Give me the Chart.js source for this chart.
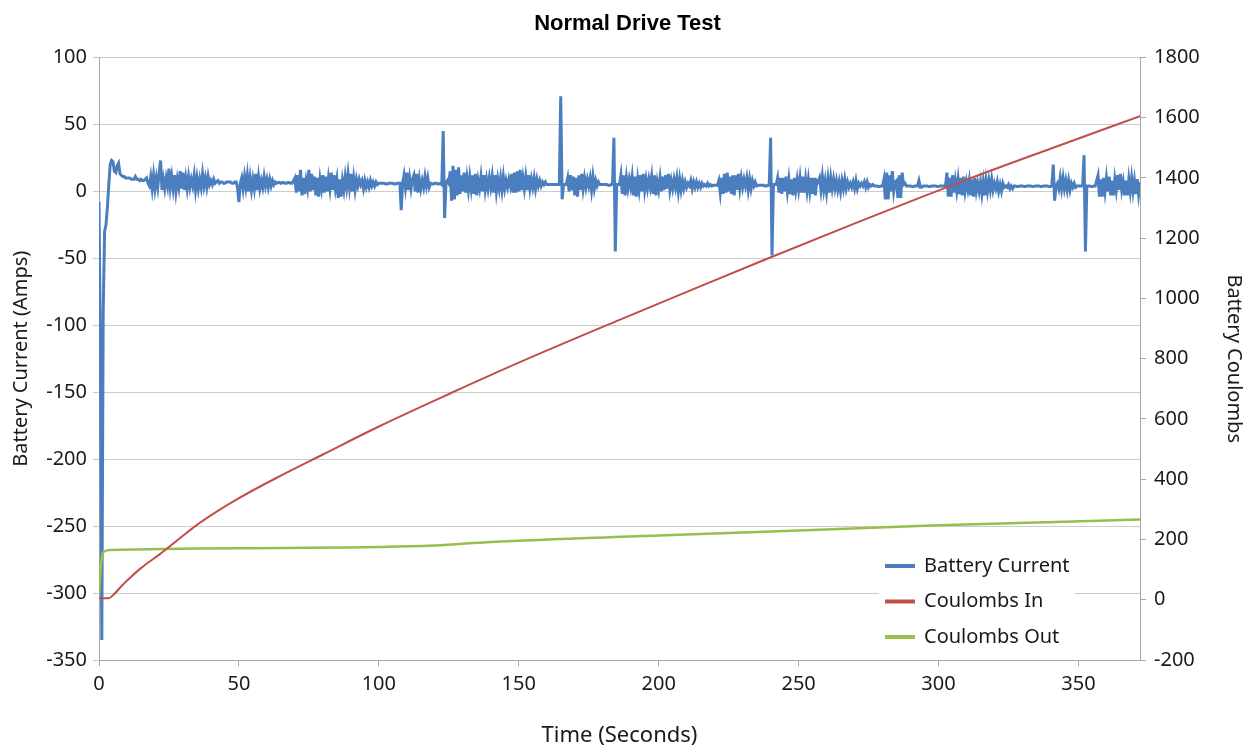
<!DOCTYPE html>
<html>
<head>
<meta charset="utf-8">
<title>Normal Drive Test</title>
<script src="https://cdn.jsdelivr.net/npm/chart.js@4.4.1/dist/chart.umd.min.js"></script>
<style>
  html, body { margin: 0; padding: 0; background: #fff; }
  #wrap { width: 1258px; height: 753px; }
</style>
</head>
<body>
<div id="wrap"><canvas id="chart" width="1258" height="753"></canvas></div>
<script>
// battery current, sampled every half second from t = 0 (one row = 5 s)
const currentStep = 0.5;
const currentAmps = [
  -8, -120, -335, -90, -30, -25, -12, 5, 20, 23,
  22, 15, 14, 19, 21, 13, 12, 11, 11, 10,
  10, 10, 10, 9, 9, 9, 11, 9, 9, 8,
  9, 8, 8, 9, 10, 6, 4, 11, 2, 12,
  2, 10, 3, 14, 23, 1, 9, 2, 10, 4,
  17, 3, 11, 2, 12, 0, 9, 3, 15, 2,
  14, 1, 10, 2, 11, 3, 9, 4, 12, 1,
  10, 2, 9, 3, 13, 4, 10, 3, 11, 5,
  8, 5, 9, 6, 7, 8, 6, 7, 7, 6,
  6, 7, 7, 7, 7, 6, 6, 7, 7, 3,
  -8, 6, 10, 2, 11, 3, 12, 0, 10, 1,
  9, 2, 13, 1, 11, 2, 8, 3, 11, 4,
  9, 3, 9, 4, 8, 5, 7, 6, 6.5, 6.5,
  6, 6.5, 6.5, 6, 6, 6.5, 6.5, 6, 6, 8,
  10, -1, 12, 0, 16, -3, 10, -2, 8, 2,
  16, 0, 13, 1, 11, -3, 10, -4, 9, 2,
  12, -1, 11, 0, 10, 2, 14, 1, 12, 2,
  9, -5, 9, -4, 8, 1, 11, 3, 13, 3,
  13, 0, 10, 1, 9, 4, 9, 5, 8, 2,
  8, 3, 7, 3, 8, 4, 7, 4, 7, 5,
  6, 6, 6, 6, 6, 5.5, 5.5, 6, 6, 6,
  6, 5.5, 5.5, 6, 6, 6, -14, 6, 12, 3,
  14, 1, 10, 2, 9, 12, 0, 13, -1, 9,
  2, 8, 3, 11, 4, 10, 3, 6, 5.5, 5.5,
  6, 6, 5.5, 5.5, 6, 5, 45, -20, 6, 8,
  6, 15, -7, 19, -6, 16, -3, 18, -2, 12,
  0, 14, -1, 10, 1, 11, 2, 12, -2, 13,
  -3, 8, 2, 11, 0, 12, 1, 9, 2, 10,
  3, 11, -1, 12, 0, 9, 2, 10, 1, 11,
  2, 8, 3, 9, 4, 13, -1, 14, -1, 15,
  0, 16, 1, 10, 2, 11, 1, 12, 2, 9,
  3, 10, 2, 9, 4, 8, 4, 7, 5, 7,
  5, 5, 5, 5, 5, 5, 5, 5, 5, 5,
  71, -6, 5, 5, 5, 10, 0, 12, 1, 11,
  -3, 10, -4, 12, 1, 13, 2, 10, 3, 9,
  4, 10, 1, 11, 2, 8, 4, 7, 5, 5,
  5, 5, 5, 5, 4.5, 4.5, 5, 5, 40, -45,
  5, 5, 5, 12, -2, 12, -3, 10, 2, 9,
  3, 11, -3, 11, -4, 9, 1, 12, 0, 13,
  1, 9, 2, 9, 3, 11, -2, 12, -3, 7,
  1, 10, 0, 11, 1, 12, 2, 13, 1, 8,
  2, 9, 3, 10, 0, 9, 1, 8, 2, 7,
  3, 6, 4, 8, 2, 7, 3, 7, 3, 6,
  3, 6, 4, 5, 4, 6, 4, 5, 4, 4.5,
  4.5, 4.5, 4.5, 8, -1, 10, -2, 13, -1, 14,
  0, 11, -2, 12, -3, 12, 1, 13, 2, 10,
  3, 9, 4, 10, 1, 9, 2, 8, 4, 7,
  4, 4.5, 4.5, 4.5, 4.5, 4.5, 4, 4, 4.5, 4.5,
  40, -48, 5, 5, 5, 10, -1, 10, -2, 10,
  0, 11, 0, 9, -2, 9, -3, 10, 1, 9,
  1, 10, -1, 11, -1, 9, 0, 9, 0, 10,
  -2, 10, -3, 8, 7, 10, 1, 11, 1, 8,
  -1, 9, -1, 10, 2, 9, 2, 8, 1, 7,
  0, 8, 2, 9, 2, 7, 3, 6, 3, 7,
  2, 8, 2, 6, 4, 6, 4, 7, 3, 7,
  3, 5, 4, 5, 4, 4, 4, 3.5, 3.5, 4,
  4, 9, -6, 14, -6, 12, 0, 15, 0, 7,
  8, -5, 12, -5, 14, 5, 6, 4, 4, 4,
  4, 3.5, 3.5, 4, 4, 4, 8, 3, 3, 4,
  4, 4, 4, 3.5, 3.5, 4, 4, 4, 4, 3.5,
  3.5, 4, 4, 4, 4, 4, 14, -4, 10, -4,
  12, -1, 8, 0, 9, -2, 10, -3, 11, 0,
  7, 1, 8, -3, 9, -4, 10, 0, 6, 0,
  7, -2, 7, -3, 8, 0, 8, 1, 9, 1,
  6, 2, 7, 0, 5, 0, 6, 3, 4, 3,
  5, 2, 4, 2, 4, 4, 3.5, 3.5, 4, 4,
  4, 3.5, 3.5, 4, 4, 4, 4, 3.5, 3.5, 4,
  4, 4, 4, 3.5, 3.5, 4, 4, 4, 4, 3.5,
  3.5, 4, 20, -7, 4, 6, 2, 10, 2, 10,
  2, 8, 1, 8, 1, 6, 3, 6, 3, 4,
  4, 4, 4, 4, 27, -45, 4, 4, 4, 3.5,
  3.5, 4, 4, 8, 12, -4, 9, -4, 10, 0,
  10, 0, 11, -3, 8, -3, 9, 1, 12, 1,
  13, 1, 7, -3, 8, -3, 9, 0, 10, 0,
  8, -2, 9, -2, 7
];

const coulombsInTime = [0, 3.5, 5, 8, 11, 15, 22, 29, 36, 50, 65, 80, 100, 126, 150, 186, 215, 237, 269, 308, 340, 372];
const coulombsIn = [5, 5, 15, 45, 72, 105, 153, 205, 255, 337, 412, 482, 575, 687, 787, 929, 1041, 1125, 1245, 1387, 1497, 1605];

const coulombsOutTime = [0, 0.5, 1, 1.5, 4, 65, 120, 140, 200, 250, 300, 372];
const coulombsOut = [20, 90, 140, 158, 165, 172, 180, 192, 213, 230, 247, 266];

const seriesNames = ['Battery Current', 'Coulombs In', 'Coulombs Out'];
const seriesColors = ['#4a7ebf', '#c24e4a', '#98bf4e'];

const leftTicks = { min: -350, max: 100, step: 50 };
const rightTicks = { min: -200, max: 1800, step: 200 };
const timeTicks = { min: 0, max: 372, step: 50 };

const FONT = "'Noto Sans', sans-serif";
const axisGray = '#a6a6a6';

// legend drawn inside the plot, bottom right, like the original
const insideLegend = {
  id: 'insideLegend',
  afterDraw(chart) {
    const ctx = chart.ctx;
    const a = chart.chartArea;
    const x0 = a.right - 261, y0 = a.bottom - 114;
    ctx.save();
    ctx.fillStyle = '#fff';
    ctx.fillRect(x0, y0, 196, 112);
    ctx.font = '20px ' + FONT;
    ctx.textBaseline = 'middle';
    seriesNames.forEach((name, i) => {
      const y = y0 + 20 + i * 35.5;
      ctx.strokeStyle = seriesColors[i];
      ctx.lineWidth = 4;
      ctx.beginPath();
      ctx.moveTo(x0 + 6, y);
      ctx.lineTo(x0 + 36, y);
      ctx.stroke();
      ctx.fillStyle = '#1a1a1a';
      ctx.fillText(name, x0 + 45, y);
    });
    ctx.restore();
  }
};

new Chart(document.getElementById('chart'), {
  type: 'line',
  data: {
    datasets: [
      {
        label: seriesNames[0],
        data: currentAmps.map((v, i) => ({ x: i * currentStep, y: v })),
        borderColor: seriesColors[0],
        borderWidth: 3,
        yAxisID: 'y',
        order: 3
      },
      {
        label: seriesNames[1],
        data: coulombsInTime.map((t, i) => ({ x: t, y: coulombsIn[i] })),
        borderColor: seriesColors[1],
        borderWidth: 2,
        cubicInterpolationMode: 'monotone',
        yAxisID: 'y1',
        order: 1
      },
      {
        label: seriesNames[2],
        data: coulombsOutTime.map((t, i) => ({ x: t, y: coulombsOut[i] })),
        borderColor: seriesColors[2],
        borderWidth: 2.5,
        cubicInterpolationMode: 'monotone',
        yAxisID: 'y1',
        order: 2
      }
    ]
  },
  options: {
    responsive: false,
    devicePixelRatio: 1,
    animation: false,
    elements: { point: { radius: 0 }, line: { tension: 0 } },
    layout: { padding: { left: 9, right: 12 } },
    plugins: {
      legend: { display: false },
      tooltip: { enabled: false },
      title: {
        display: true,
        text: 'Normal Drive Test',
        color: '#000',
        font: { family: "'Liberation Sans', Arial, sans-serif", size: 22, weight: 'bold' },
        padding: { top: 11, bottom: 20 }
      }
    },
    scales: {
      x: {
        type: 'linear',
        min: timeTicks.min,
        max: timeTicks.max,
        ticks: { stepSize: timeTicks.step, includeBounds: false, color: '#1a1a1a', font: { family: FONT, size: 20 }, padding: 6 },
        grid: { drawOnChartArea: false, tickLength: 6, color: axisGray },
        border: { color: axisGray },
        title: { display: true, text: 'Time (Seconds)', color: '#1a1a1a', font: { family: FONT, size: 22 }, padding: { top: 21 } },
        afterFit: s => { s.height = 93; }
      },
      y: {
        position: 'left',
        min: leftTicks.min,
        max: leftTicks.max,
        ticks: { stepSize: leftTicks.step, color: '#1a1a1a', font: { family: FONT, size: 20 }, padding: 6 },
        grid: { color: '#cccccc', tickLength: 6 },
        border: { color: axisGray },
        title: { display: true, text: 'Battery Current (Amps)', color: '#1a1a1a', font: { family: FONT, size: 20 }, padding: 0 },
        afterFit: s => { s.width = 90; }
      },
      y1: {
        position: 'right',
        min: rightTicks.min,
        max: rightTicks.max,
        ticks: { stepSize: rightTicks.step, color: '#1a1a1a', font: { family: FONT, size: 20 }, padding: 8, callback: v => String(v) },
        grid: { drawOnChartArea: false, tickLength: 6, color: axisGray },
        border: { color: axisGray },
        title: { display: true, text: 'Battery Coulombs', color: '#1a1a1a', font: { family: FONT, size: 20 }, padding: 0 },
        afterFit: s => { s.width = 106; }
      }
    }
  },
  plugins: [insideLegend]
});
</script>
</body>
</html>
